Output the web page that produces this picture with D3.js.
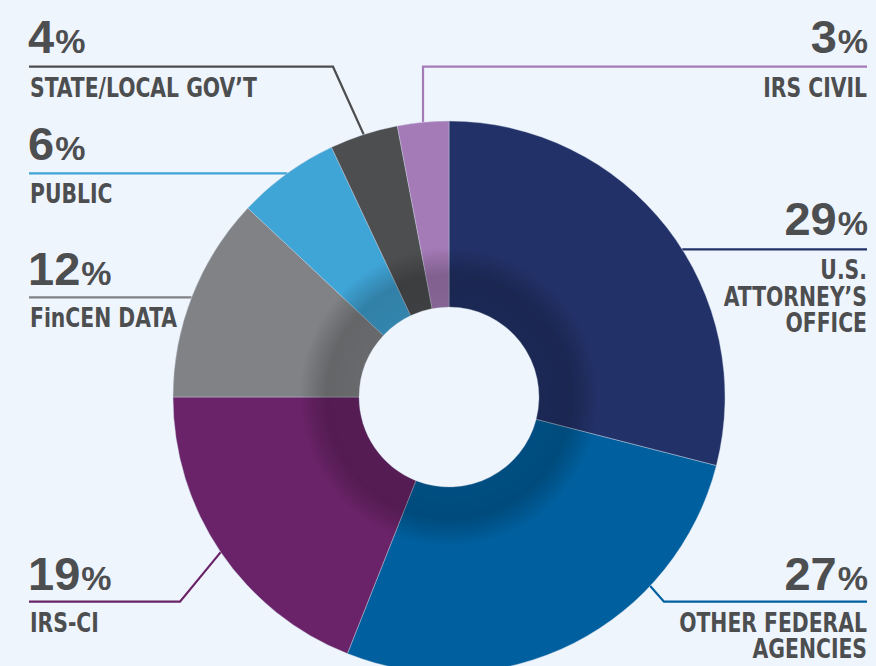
<!DOCTYPE html>
<html>
<head>
<meta charset="utf-8">
<script src="https://cdn.jsdelivr.net/npm/d3@7"></script>
<style>
  html, body { margin: 0; padding: 0; background: #eff5fd; }
  svg { display: block; }
</style>
</head>
<body>
<div id="chart"></div>
<script>
// ---- data ----
const categories = ["U.S. ATTORNEY’S OFFICE", "OTHER FEDERAL AGENCIES", "IRS-CI", "FinCEN DATA", "PUBLIC", "STATE/LOCAL GOV’T", "IRS CIVIL"];
const values = [29, 27, 19, 12, 6, 4, 3];
const nameLines = [["U.S.", "ATTORNEY’S", "OFFICE"], ["OTHER FEDERAL", "AGENCIES"], ["IRS-CI"], ["FinCEN DATA"], ["PUBLIC"], ["STATE/LOCAL GOV’T"], ["IRS CIVIL"]];
const colors = ["#223168", "#00609f", "#6a2368", "#808285", "#3fa4d6", "#4d4e50", "#a57bb7"];

// ---- layout (label placement) ----
const W = 876, H = 666;
const cx = 449, cy = 397, R = 276, r0 = 90, rShade = 150;
const textColor = "#4d4e50";
const layout = [
  {side: "right", numY: 235, lineY: 249.3, anchor: "rowY"},
  {side: "right", numY: 590, lineY: 601.7, anchor: "frac", frac: 0.37, elbowX: 664},
  {side: "left",  numY: 590, lineY: 601.7, anchor: "mid", elbowX: 180},
  {side: "left",  numY: 285, lineY: 297.3, anchor: "rowY"},
  {side: "left",  numY: 160, lineY: 173.3, anchor: "rowY"},
  {side: "left",  numY: 53,  lineY: 66.7,  anchor: "mid", elbowX: 333},
  {side: "right", numY: 53,  lineY: 66.7,  anchor: "mid", elbowX: "vertical"}
];
const leftX = 29, rightX = 867;
const nameScaleX = 0.87;

const svg = d3.select("#chart").append("svg").attr("width", W).attr("height", H);
svg.append("rect").attr("width", W).attr("height", H).attr("fill", "#eff5fd");

const pie = d3.pie().sort(null).value(d => d).startAngle(0).endAngle(2 * Math.PI);
const arcs = pie(values);
const arc = d3.arc().innerRadius(r0).outerRadius(R);

const defs = svg.append("defs");
const grad = defs.append("radialGradient").attr("id", "shade")
  .attr("gradientUnits", "userSpaceOnUse").attr("cx", 0).attr("cy", 0).attr("r", rShade);
[[0, 0.2], [r0 / rShade, 0.19], [122 / rShade, 0.22], [138 / rShade, 0.1], [1, 0]].forEach(([o, a]) =>
  grad.append("stop").attr("offset", o).attr("stop-color", "#000").attr("stop-opacity", a));

// leader lines (under the donut)
const pt = ang => [cx + R * Math.sin(ang), cy - R * Math.cos(ang)];
const lines = svg.append("g");
arcs.forEach((a, i) => {
  const L = layout[i];
  let anchor;
  if (L.anchor === "mid") anchor = pt((a.startAngle + a.endAngle) / 2);
  else if (L.anchor === "frac") anchor = pt(L.frac * 2 * Math.PI);
  else {
    const dy = L.lineY - cy, dx = Math.sqrt(R * R - dy * dy);
    anchor = [L.side === "right" ? cx + dx : cx - dx, L.lineY];
  }
  const x0 = L.side === "left" ? leftX : rightX;
  let pts;
  if (L.anchor === "rowY") pts = [[x0, L.lineY], [anchor[0], L.lineY]];
  else {
    const ex = L.elbowX === "vertical" ? anchor[0] : L.elbowX;
    pts = [[x0, L.lineY], [ex, L.lineY], anchor];
  }
  lines.append("path").attr("d", d3.line()(pts))
    .attr("fill", "none").attr("stroke", colors[i]).attr("stroke-width", 2.2);
});

// donut
const g = svg.append("g").attr("transform", `translate(${cx},${cy})`);
g.selectAll("path.slice").data(arcs).join("path").attr("class", "slice")
  .attr("d", arc).attr("fill", (d, i) => colors[i])
  .attr("stroke", "#c9d3e2").attr("stroke-width", 0.4);
g.append("path")
  .attr("d", d3.arc().innerRadius(r0).outerRadius(rShade).startAngle(0).endAngle(2 * Math.PI)())
  .attr("fill", "url(#shade)");

// labels
const labels = svg.append("g");
arcs.forEach((a, i) => {
  const L = layout[i];
  const anchorSide = L.side === "left" ? "start" : "end";
  const tx = L.side === "left" ? 28 : 868;
  const t = labels.append("text").attr("x", tx).attr("y", L.numY)
    .attr("text-anchor", anchorSide).attr("fill", textColor)
    .attr("font-family", "'Liberation Sans', Arial, sans-serif").attr("font-weight", 700);
  t.append("tspan").attr("font-size", 47).text(values[i]);
  t.append("tspan").attr("font-size", 34).attr("dx", 1).text("%");

  const nx = L.side === "left" ? 30 : 867;
  const ny = L.lineY + 30;
  const nt = labels.append("g").attr("transform", `translate(${nx},${ny}) scale(${nameScaleX},1)`)
    .append("text").attr("x", 0).attr("y", 0)
    .attr("text-anchor", anchorSide).attr("fill", textColor)
    .attr("font-family", "'DejaVu Sans Condensed', 'DejaVu Sans', sans-serif")
    .attr("font-weight", 700).attr("font-size", 26);
  nameLines[i].forEach((s, k) => {
    nt.append("tspan").attr("x", 0).attr("dy", k === 0 ? 0 : 26.5).text(s);
  });
});
</script>
</body>
</html>
